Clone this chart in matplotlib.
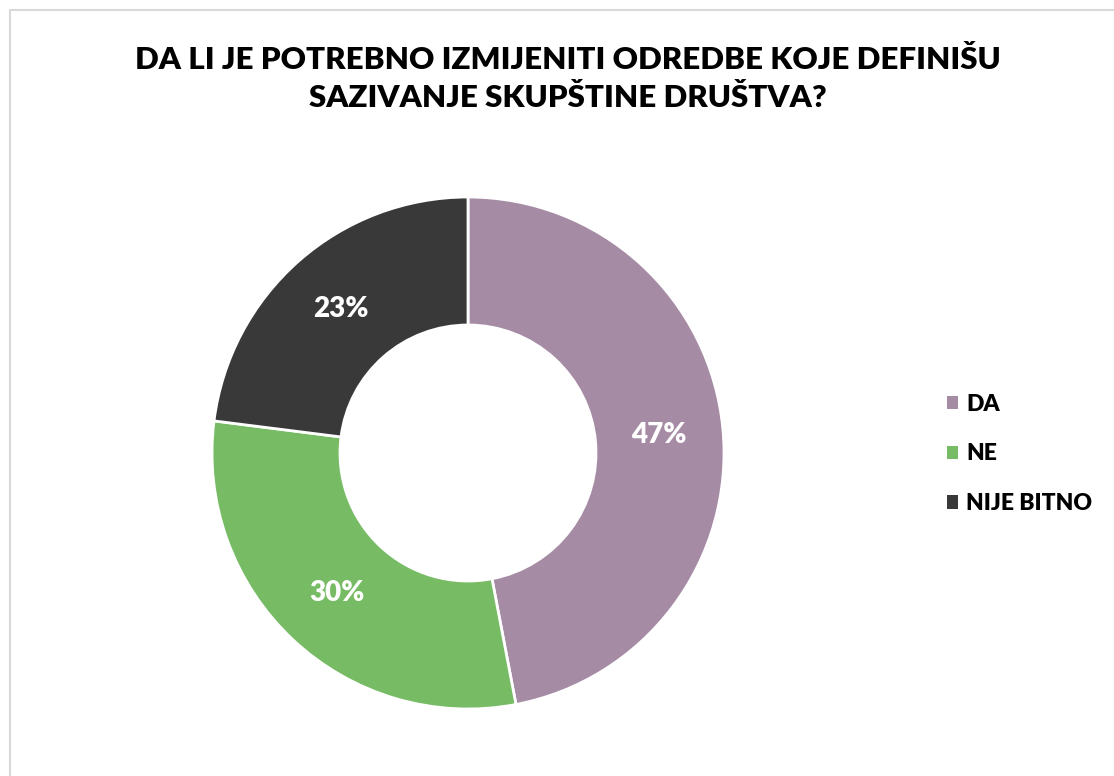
import matplotlib.pyplot as plt
from matplotlib.patches import Rectangle, Patch

# podaci
labels = ['DA', 'NE', 'NIJE BITNO']
values = [47, 30, 23]
colors = ['#A68BA5', '#77BC65', '#3A3939']

title = 'DA LI JE POTREBNO IZMIJENITI ODREDBE KOJE DEFINIŠU\nSAZIVANJE SKUPŠTINE DRUŠTVA?'

plt.rcParams['font.family'] = ['Lato', 'DejaVu Sans']

W, H = 1114, 776
fig = plt.figure(figsize=(W / 100, H / 100), dpi=100)

# okvir
fig.patches.append(Rectangle((10 / W, -0.1), 1.2, 1 - 10 / H + 0.1, transform=fig.transFigure,
                             fill=False, edgecolor='#D9D9D9', linewidth=1.5))

fig.text(568 / W, 1 - 79 / H, title, ha='center', va='center', fontsize=22.5,
         fontweight='heavy', linespacing=1.42, color='#000000')

# krofna
cx, cy, r = 468, 453, 256
ax = fig.add_axes([(cx - r) / W, (H - cy - r) / H, 2 * r / W, 2 * r / H])
wedges, texts, autotexts = ax.pie(values, colors=colors, startangle=90, counterclock=False,
                                  radius=1, autopct='%d%%', pctdistance=0.75,
                                  wedgeprops=dict(width=0.5, edgecolor='white', linewidth=2),
                                  textprops=dict(color='white', fontsize=20, fontweight='heavy'))
ax.set_xlim(-1, 1)
ax.set_ylim(-1, 1)
ax.set_aspect('equal')
ax.axis('off')

handles = [Patch(facecolor=c, edgecolor='none') for c in colors]
fig.legend(handles, labels, loc='center left', bbox_to_anchor=(926 / W, 1 - 454 / H),
           frameon=False, handlelength=0.5, handleheight=0.5, handletextpad=0.35,
           labelspacing=1.25, prop=dict(size=16.5, weight='heavy'))

fig.savefig('out.png', dpi=100)
